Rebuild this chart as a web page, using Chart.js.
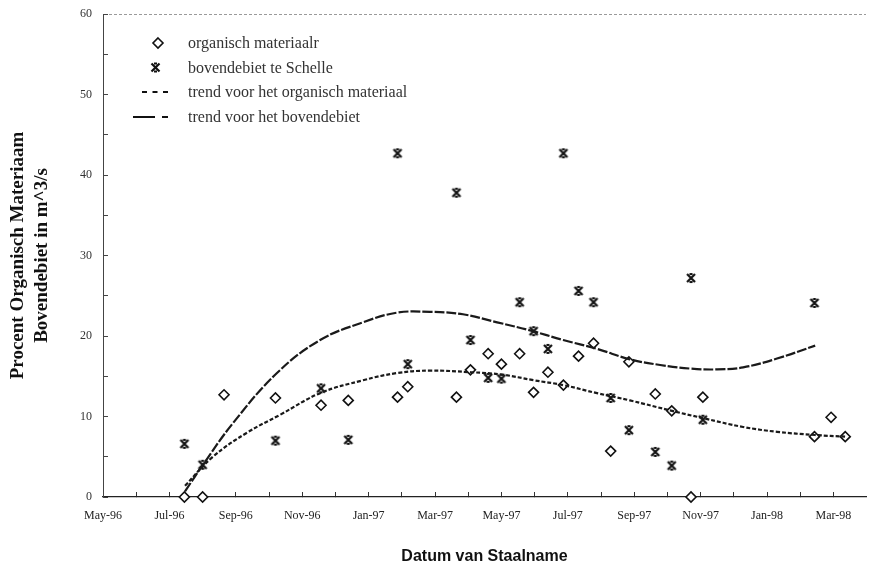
<!DOCTYPE html>
<html>
<head>
<meta charset="utf-8">
<script src="https://cdn.jsdelivr.net/npm/chart.js@4.4.1/dist/chart.umd.min.js"></script>
<style>
  html, body { margin: 0; padding: 0; background: #fff; }
  #wrap { position: relative; width: 873px; height: 567px; }
  #c { position: absolute; left: 0; top: 0; }
  .lg { position: absolute; left: 0; height: 20px; line-height: 20px; font-family: "Liberation Serif", "DejaVu Serif", serif; font-size: 16px; color: #333; white-space: nowrap; }
  .lg span { position: absolute; left: 188px; top: 0; }
  .lg svg { position: absolute; top: 0; left: 128px; }
</style>
</head>
<body>
<div id="wrap">
  <canvas id="c" width="873" height="567"></canvas>
  <div class="lg" style="top:33px">
    <svg width="50" height="20"><path d="M30 5 L35 10 L30 15 L25 10 Z" fill="#fff" stroke="#111" stroke-width="1.6"/></svg>
    <span>organisch materiaalr</span>
  </div>
  <div class="lg" style="top:58px">
    <svg width="50" height="20"><path d="M23.5 5.5 L31.5 13.5 M31.5 5.5 L23.5 13.5 M26 5.5 L29 5.5 M26 13.5 L29 13.5" stroke="#111" stroke-width="2.2" fill="none"/></svg>
    <span>bovendebiet te Schelle</span>
  </div>
  <div class="lg" style="top:82px">
    <svg width="50" height="20"><path d="M14 10 L19 10 M24.5 10 L29.5 10 M35 10 L40 10" stroke="#111" stroke-width="2.2" fill="none"/></svg>
    <span>trend voor het organisch materiaal</span>
  </div>
  <div class="lg" style="top:107px">
    <svg width="50" height="20"><path d="M5 10 L27 10 M34 10 L40 10" stroke="#111" stroke-width="2.2" fill="none"/></svg>
    <span>trend voor het bovendebiet</span>
  </div>
</div>
<script>
// ---- data ----
const tickLabels = ['May-96','Jul-96','Sep-96','Nov-96','Jan-97','Mar-97','May-97','Jul-97','Sep-97','Nov-97','Jan-98','Mar-98'];

const sampleDates = ['1996-07-15','1996-08-01','1996-08-21','1996-10-07','1996-11-18','1996-12-13',
  '1997-01-28','1997-02-06','1997-03-21','1997-04-03','1997-04-19','1997-05-01','1997-05-18',
  '1997-05-31','1997-06-13','1997-06-27','1997-07-11','1997-07-25','1997-08-10','1997-08-27',
  '1997-09-20','1997-10-05','1997-10-23','1997-11-03','1998-02-13','1998-02-27','1998-03-12'];

const organischMateriaal = [0, 0, 12.7, 12.3, 11.4, 12.0,
  12.4, 13.7, 12.4, 15.8, 17.8, 16.5, 17.8,
  13.0, 15.5, 13.9, 17.5, 19.1, 5.7, 16.8,
  12.8, 10.7, 0, 12.4, 7.5, 9.9, 7.5];

const bovendebiet = [6.6, 4.0, null, 7.0, 13.5, 7.1,
  42.7, 16.5, 37.8, 19.5, 14.8, 14.7, 24.2,
  20.6, 18.4, 42.7, 25.6, 24.2, 12.3, 8.3,
  5.6, 3.9, 27.2, 9.6, 24.1, null, null];

// trend curves (x = months since 1 May 1996)
const trendOrgMonths = [2.47, 3.31, 4.34, 5.33, 6.54, 7.83, 8.86, 9.85, 11.08, 12.02, 12.98, 13.86, 14.88, 15.87, 17.14, 18.07, 19.28, 20.30, 21.45, 22.35];
const trendOrgValues = [1.4, 5.0, 8.0, 10.2, 12.9, 14.5, 15.4, 15.7, 15.5, 15.2, 14.5, 13.9, 12.9, 12.0, 10.7, 9.8, 8.7, 8.1, 7.7, 7.5];

const trendFlowMonths = [2.47, 3.01, 3.92, 5.24, 6.54, 7.83, 8.86, 9.85, 10.84, 11.87, 12.86, 13.86, 14.88, 15.87, 16.78, 17.70, 18.50, 19.28, 20.30, 21.45];
const trendFlowValues = [0.7, 4.0, 9.2, 15.4, 19.5, 21.7, 22.9, 23.0, 22.7, 21.7, 20.7, 19.5, 18.4, 17.1, 16.4, 15.95, 15.85, 16.1, 17.2, 18.8];

// ---- helpers ----
function dateToMonth(s) {
  const [y, m, d] = s.split('-').map(Number);
  const dim = new Date(y, m, 0).getDate();
  return (y - 1996) * 12 + (m - 1) - 4 + (d - 1) / dim;
}
function pts(dates, vals) {
  const out = [];
  dates.forEach((d, i) => { if (vals[i] !== null) out.push({ x: dateToMonth(d), y: vals[i] }); });
  return out;
}
function pairs(xs, ys) { return xs.map((x, i) => ({ x: x, y: ys[i] })); }

function makeStar() {
  const c = document.createElement('canvas');
  c.width = 12; c.height = 12;
  const g = c.getContext('2d');
  g.strokeStyle = '#111'; g.lineWidth = 2.2;
  g.beginPath();
  g.moveTo(2, 2); g.lineTo(10, 10);
  g.moveTo(10, 2); g.lineTo(2, 10);
  g.moveTo(4.5, 2); g.lineTo(7.5, 2);
  g.moveTo(4.5, 10); g.lineTo(7.5, 10);
  g.stroke();
  return c;
}

const serif = "'Liberation Serif', 'DejaVu Serif', serif";

new Chart(document.getElementById('c'), {
  type: 'scatter',
  data: {
    datasets: [
      {
        label: 'trend voor het organisch materiaal',
        data: pairs(trendOrgMonths, trendOrgValues),
        showLine: true, pointRadius: 0, borderColor: '#1a1a1a', borderWidth: 2.2,
        borderDash: [4, 2], tension: 0.4, clip: false
      },
      {
        label: 'trend voor het bovendebiet',
        data: pairs(trendFlowMonths, trendFlowValues),
        showLine: true, pointRadius: 0, borderColor: '#1a1a1a', borderWidth: 2.2,
        borderDash: [10, 2], tension: 0.4, clip: false
      },
      {
        label: 'bovendebiet te Schelle',
        data: pts(sampleDates, bovendebiet),
        pointStyle: makeStar(), pointRadius: 6, clip: false
      },
      {
        label: 'organisch materiaalr',
        data: pts(sampleDates, organischMateriaal),
        pointStyle: 'rectRot', pointRadius: 5, pointBorderWidth: 1.6,
        pointBackgroundColor: '#fff', pointBorderColor: '#111', clip: false
      }
    ]
  },
  options: {
    responsive: false,
    animation: false,
    layout: { padding: { top: 14, right: 0, left: 0, bottom: 0 } },
    plugins: { legend: { display: false }, tooltip: { enabled: false } },
    scales: {
      x: {
        type: 'linear', min: 0, max: 22.98,
        afterBuildTicks: (s) => { const t = []; for (let k = 0; k <= 22; k++) t.push({ value: k }); s.ticks = t; },
        afterFit: (s) => { s.height = 70; s.paddingLeft = 0; s.paddingRight = 0; },
        ticks: {
          autoSkip: false, maxRotation: 0, padding: 17, color: '#222',
          font: { family: serif, size: 12 },
          callback: (v) => (Number.isInteger(v) && v % 2 === 0 && tickLabels[v / 2]) ? tickLabels[v / 2] : ''
        },
        grid: { drawOnChartArea: false, tickLength: -5, tickColor: '#333', tickWidth: 1 },
        border: { color: '#222', width: 1.2 },
        title: {
          display: true, text: 'Datum van Staalname', color: '#111',
          font: { family: "'Liberation Sans', Arial, sans-serif", size: 16, weight: 'bold' },
          padding: { top: 0, bottom: 1 }
        }
      },
      y: {
        min: 0, max: 60,
        afterFit: (s) => { s.width = 103; s.paddingTop = 0; s.paddingBottom = 0; },
        ticks: {
          stepSize: 5, padding: 16, color: '#333',
          font: { family: serif, size: 12 },
          callback: (v) => (v % 10 === 0 ? String(v) : '')
        },
        grid: {
          drawOnChartArea: true, tickLength: -5, tickColor: '#444',
          color: (ctx) => (ctx.tick && ctx.tick.value === 60 ? '#9a9a9a' : 'rgba(0,0,0,0)')
        },
        border: { color: '#444', width: 1, dash: [3, 2] },
        title: {
          display: true, text: ['Procent Organisch Materiaam', 'Bovendebiet in m^3/s'], color: '#111',
          font: { family: serif, size: 19, weight: 'bold', lineHeight: 1.26 },
          padding: { top: 6, bottom: 0 }
        }
      }
    }
  }
});
</script>
</body>
</html>
